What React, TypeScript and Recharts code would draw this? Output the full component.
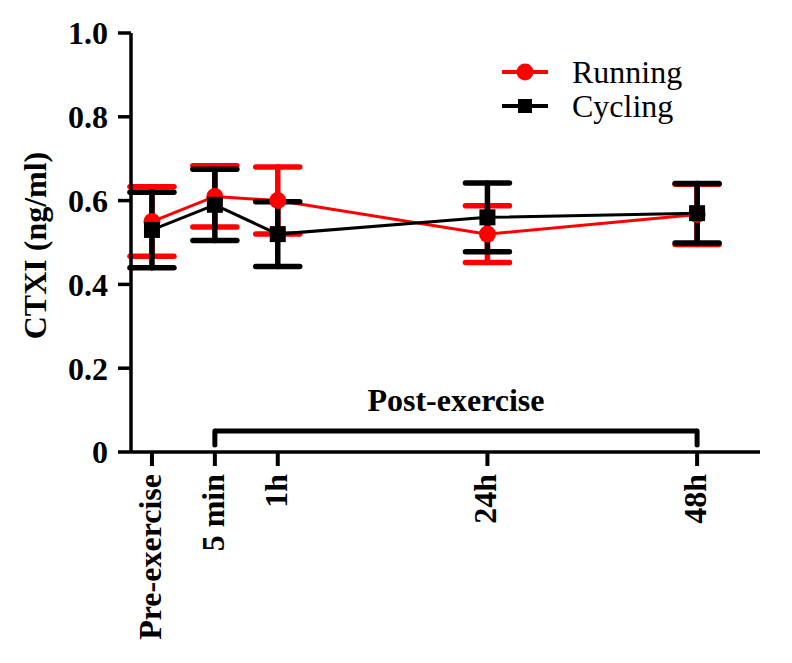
import React from "react"
import { LineChart, Line, XAxis, YAxis, ErrorBar, ReferenceLine, Legend } from "recharts"

// time points and where they sit on the (non-linear) time axis
const timepoints = ["Pre-exercise", "5 min", "1h", "24h", "48h"]
const timeAxisPos = [0, 3, 6, 16, 26]

const runningMean = [0.55, 0.61, 0.6, 0.52, 0.567]
const runningErr = [0.083, 0.073, 0.08, 0.068, 0.072]
const cyclingMean = [0.53, 0.59, 0.52, 0.56, 0.57]
const cyclingErr = [0.09, 0.085, 0.077, 0.082, 0.071]

const yTicks = [0, 0.2, 0.4, 0.6, 0.8, 1.0]
const legendOrder = ["running", "cycling"]

const data = timepoints.map((t, i) => ({
  label: t,
  pos: timeAxisPos[i],
  running: runningMean[i],
  runningErr: runningErr[i],
  cycling: cyclingMean[i],
  cyclingErr: cyclingErr[i],
}))

const FONT = '"Liberation Serif", "Times New Roman", serif'
const BRACKET_TOP = 0.05
const BRACKET_FOOT = 0.017

const XTick = (props: any) => {
  const { x, y, payload } = props
  const idx = timeAxisPos.indexOf(payload.value)
  const tx = x + 9
  const ty = y + 2
  return (
    <text
      x={tx}
      y={ty}
      transform={`rotate(-90, ${tx}, ${ty})`}
      textAnchor="end"
      fontFamily={FONT}
      fontWeight="bold"
      fontSize={32}
      fill="#000"
    >
      {timepoints[idx]}
    </text>
  )
}

const SquareDot = (props: any) => {
  const { cx, cy, index } = props
  if (cx == null || cy == null) return null
  return <rect key={`sq-${index}`} x={cx - 8} y={cy - 8} width={16} height={16} fill="#000" />
}

const YLabel = (props: any) => {
  const { viewBox } = props
  const cx = viewBox.x + 46
  const cy = viewBox.y + viewBox.height / 2 + 3
  return (
    <text
      x={cx}
      y={cy}
      transform={`rotate(-90, ${cx}, ${cy})`}
      textAnchor="middle"
      fontFamily={FONT}
      fontWeight="bold"
      fontSize={32}
      fill="#000"
    >
      CTXI (ng/ml)
    </text>
  )
}

const renderLegend = (props: any) => {
  const items = [...(props.payload || [])].sort(
    (a: any, b: any) => legendOrder.indexOf(a.dataKey) - legendOrder.indexOf(b.dataKey)
  )
  return (
    <div style={{ fontFamily: FONT, fontSize: 32, lineHeight: "33px" }}>
      {items.map((entry: any) => (
        <div key={entry.value} style={{ display: "flex", alignItems: "center", height: 34 }}>
          <svg width={74} height={30}>
            <line x1={4} y1={15} x2={50} y2={15} stroke={entry.color} strokeWidth={4} />
            {entry.dataKey === "running" ? (
              <circle cx={27} cy={15} r={8.5} fill={entry.color} />
            ) : (
              <rect x={20} y={8} width={14} height={14} fill={entry.color} />
            )}
          </svg>
          <span style={{ color: "#000" }}>{entry.value}</span>
        </div>
      ))}
    </div>
  )
}

export default function App() {
  const post0 = timeAxisPos[1]
  const post1 = timeAxisPos[4]
  return (
    <div style={{ position: "absolute", left: 0, top: 0, width: 792, height: 663, background: "#fff" }}>
      <LineChart
        width={792}
        height={663}
        data={data}
        margin={{ top: 33, right: 32, bottom: 0, left: 0 }}
        style={{ fontFamily: FONT }}
      >
        <XAxis
          dataKey="pos"
          type="number"
          domain={[-1, 29]}
          ticks={timeAxisPos}
          tick={<XTick />}
          tickSize={14}
          tickMargin={6}
          height={211}
          axisLine={{ stroke: "#000", strokeWidth: 3.5 }}
          tickLine={{ stroke: "#000", strokeWidth: 4 }}
          interval={0}
        />
        <YAxis
          type="number"
          domain={[0, 1]}
          ticks={yTicks}
          width={131}
          tickSize={13}
          tickMargin={10}
          tickFormatter={(v: number) => (v === 0 ? "0" : v.toFixed(1))}
          tick={{ fill: "#000", fontSize: 32, fontWeight: "bold", fontFamily: FONT }}
          axisLine={{ stroke: "#000", strokeWidth: 3.5 }}
          tickLine={{ stroke: "#000", strokeWidth: 3.5 }}
          label={<YLabel />}
        />
        <Legend
          verticalAlign="middle"
          align="center"
          layout="vertical"
          content={renderLegend}
          wrapperStyle={{ left: 498, top: 55, width: 260 }}
        />
        <ReferenceLine
          segment={[{ x: post0, y: BRACKET_TOP }, { x: post1, y: BRACKET_TOP }]}
          stroke="#000"
          strokeWidth={5}
          ifOverflow="visible"
          label={{
            value: "Post-exercise",
            position: "top",
            offset: 20,
            fill: "#000",
            fontSize: 32,
            fontWeight: "bold",
            fontFamily: FONT,
          }}
        />
        <ReferenceLine
          segment={[{ x: post0, y: BRACKET_FOOT }, { x: post0, y: BRACKET_TOP }]}
          stroke="#000"
          strokeWidth={5}
          strokeLinecap="round"
          ifOverflow="visible"
        />
        <ReferenceLine
          segment={[{ x: post1, y: BRACKET_FOOT }, { x: post1, y: BRACKET_TOP }]}
          stroke="#000"
          strokeWidth={5}
          strokeLinecap="round"
          ifOverflow="visible"
        />
        <Line
          type="linear"
          dataKey="running"
          name="Running"
          stroke="#ff0000"
          strokeWidth={3}
          dot={{ r: 8.5, fill: "#ff0000", stroke: "#ff0000", strokeWidth: 0 }}
          activeDot={false}
          isAnimationActive={false}
        >
          <ErrorBar
            dataKey="runningErr"
            direction="y"
            width={22}
            stroke="#ff0000"
            strokeWidth={5.5}
            strokeLinecap="round"
          />
        </Line>
        <Line
          type="linear"
          dataKey="cycling"
          name="Cycling"
          stroke="#000"
          strokeWidth={3}
          dot={<SquareDot />}
          activeDot={false}
          isAnimationActive={false}
        >
          <ErrorBar
            dataKey="cyclingErr"
            direction="y"
            width={22}
            stroke="#000"
            strokeWidth={5.5}
            strokeLinecap="round"
          />
        </Line>
      </LineChart>
    </div>
  )
}
